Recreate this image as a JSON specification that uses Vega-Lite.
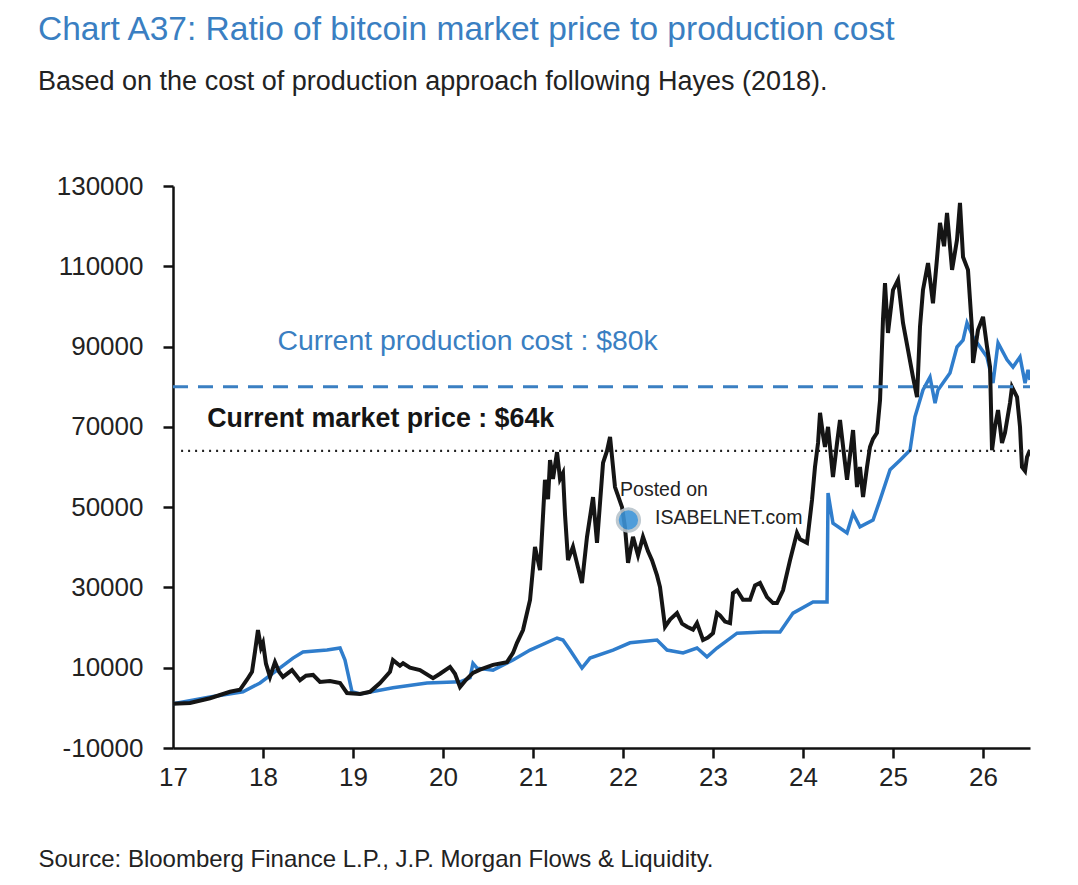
{
  "$schema": "https://vega.github.io/schema/vega-lite/v6.json",
  "autosize": "none",
  "width": 857,
  "height": 562,
  "padding": {"left": 173, "top": 186, "right": 48, "bottom": 137},
  "background": "white",
  "config": {
    "view": {"stroke": null},
    "font": "Liberation Sans, Arial, sans-serif",
    "axis": {
      "labelFont": "Liberation Sans, Arial, sans-serif",
      "labelFontSize": 26,
      "labelColor": "#222222",
      "domainColor": "#111111",
      "domainWidth": 2.5,
      "tickColor": "#111111",
      "tickWidth": 2.5,
      "tickSize": 10,
      "grid": false
    }
  },
  "title": {
    "text": "Chart A37: Ratio of bitcoin market price to production cost",
    "subtitle": "Based on the cost of production approach following Hayes (2018).",
    "anchor": "start",
    "frame": "group",
    "dx": -135,
    "offset": 77,
    "font": "Liberation Sans, Arial, sans-serif",
    "fontSize": 33.5,
    "fontWeight": "normal",
    "color": "#3a7fc2",
    "subtitleFont": "Liberation Sans, Arial, sans-serif",
    "subtitleFontSize": 27,
    "subtitleColor": "#222222",
    "subtitlePadding": 22
  },
  "datasets": {
    "cost": [
      {"t": 17.000, "v": 1000}, {"t": 17.411, "v": 2700}, {"t": 17.778, "v": 4000},
      {"t": 17.967, "v": 6200}, {"t": 18.156, "v": 9400}, {"t": 18.333, "v": 12400},
      {"t": 18.444, "v": 13900}, {"t": 18.711, "v": 14400}, {"t": 18.856, "v": 14900},
      {"t": 18.911, "v": 11900}, {"t": 18.989, "v": 4000}, {"t": 19.078, "v": 3450},
      {"t": 19.444, "v": 5000}, {"t": 19.822, "v": 6200}, {"t": 20.189, "v": 6500},
      {"t": 20.300, "v": 7500}, {"t": 20.333, "v": 11100}, {"t": 20.378, "v": 9900},
      {"t": 20.556, "v": 9400}, {"t": 20.778, "v": 11900}, {"t": 20.967, "v": 14400},
      {"t": 21.267, "v": 17400}, {"t": 21.333, "v": 16900}, {"t": 21.411, "v": 14400},
      {"t": 21.544, "v": 9900}, {"t": 21.633, "v": 12400}, {"t": 21.889, "v": 14400},
      {"t": 22.078, "v": 16200}, {"t": 22.378, "v": 16900}, {"t": 22.489, "v": 14400},
      {"t": 22.667, "v": 13700}, {"t": 22.822, "v": 14900}, {"t": 22.933, "v": 12700},
      {"t": 23.044, "v": 14900}, {"t": 23.267, "v": 18600}, {"t": 23.556, "v": 18900},
      {"t": 23.744, "v": 18900}, {"t": 23.889, "v": 23600}, {"t": 24.111, "v": 26400},
      {"t": 24.267, "v": 26400}, {"t": 24.278, "v": 53500}, {"t": 24.333, "v": 46000},
      {"t": 24.489, "v": 43600}, {"t": 24.556, "v": 48500}, {"t": 24.633, "v": 45100},
      {"t": 24.778, "v": 46800}, {"t": 24.856, "v": 51800}, {"t": 24.967, "v": 59300},
      {"t": 25.078, "v": 61700}, {"t": 25.189, "v": 64200}, {"t": 25.244, "v": 72500},
      {"t": 25.333, "v": 79200}, {"t": 25.411, "v": 82400}, {"t": 25.467, "v": 75900},
      {"t": 25.500, "v": 79200}, {"t": 25.633, "v": 83400}, {"t": 25.711, "v": 89900},
      {"t": 25.778, "v": 91600}, {"t": 25.822, "v": 95900}, {"t": 25.889, "v": 92400},
      {"t": 26.044, "v": 87400}, {"t": 26.111, "v": 80900}, {"t": 26.167, "v": 90900},
      {"t": 26.267, "v": 86700}, {"t": 26.333, "v": 84900}, {"t": 26.411, "v": 87400},
      {"t": 26.467, "v": 80900}, {"t": 26.500, "v": 84200}, {"t": 26.522, "v": 81700}
    ],
    "price": [
      {"t": 17.000, "v": 1000}, {"t": 17.189, "v": 1200}, {"t": 17.411, "v": 2400},
      {"t": 17.633, "v": 4000}, {"t": 17.744, "v": 4500}, {"t": 17.822, "v": 7000},
      {"t": 17.878, "v": 9000}, {"t": 17.911, "v": 14000}, {"t": 17.944, "v": 19400},
      {"t": 17.978, "v": 15000}, {"t": 18.000, "v": 16200}, {"t": 18.033, "v": 11000},
      {"t": 18.078, "v": 7700}, {"t": 18.133, "v": 11400}, {"t": 18.178, "v": 9000},
      {"t": 18.222, "v": 7700}, {"t": 18.322, "v": 9400}, {"t": 18.411, "v": 6900},
      {"t": 18.478, "v": 8000}, {"t": 18.556, "v": 8200}, {"t": 18.633, "v": 6450},
      {"t": 18.744, "v": 6700}, {"t": 18.856, "v": 6200}, {"t": 18.933, "v": 3700},
      {"t": 19.078, "v": 3450}, {"t": 19.189, "v": 4000}, {"t": 19.300, "v": 6200},
      {"t": 19.411, "v": 9000}, {"t": 19.444, "v": 11900}, {"t": 19.522, "v": 10500},
      {"t": 19.556, "v": 11100}, {"t": 19.633, "v": 10000}, {"t": 19.744, "v": 9400},
      {"t": 19.889, "v": 7400}, {"t": 19.967, "v": 8500}, {"t": 20.078, "v": 10200},
      {"t": 20.133, "v": 8500}, {"t": 20.189, "v": 5200}, {"t": 20.256, "v": 7000},
      {"t": 20.333, "v": 8700}, {"t": 20.411, "v": 9500}, {"t": 20.556, "v": 10700},
      {"t": 20.711, "v": 11400}, {"t": 20.778, "v": 13700}, {"t": 20.822, "v": 16200},
      {"t": 20.889, "v": 19400}, {"t": 20.967, "v": 26900}, {"t": 21.022, "v": 40100},
      {"t": 21.078, "v": 34300}, {"t": 21.133, "v": 56800}, {"t": 21.167, "v": 52000},
      {"t": 21.189, "v": 61700}, {"t": 21.222, "v": 57000}, {"t": 21.267, "v": 63700},
      {"t": 21.300, "v": 57000}, {"t": 21.333, "v": 58500}, {"t": 21.356, "v": 48000},
      {"t": 21.389, "v": 36800}, {"t": 21.444, "v": 40100}, {"t": 21.500, "v": 35000},
      {"t": 21.544, "v": 31100}, {"t": 21.600, "v": 42600}, {"t": 21.667, "v": 52500},
      {"t": 21.711, "v": 41100}, {"t": 21.778, "v": 61000}, {"t": 21.822, "v": 64000},
      {"t": 21.856, "v": 67500}, {"t": 21.911, "v": 55000}, {"t": 21.989, "v": 50000},
      {"t": 22.022, "v": 45000}, {"t": 22.056, "v": 36100}, {"t": 22.111, "v": 42600},
      {"t": 22.167, "v": 38000}, {"t": 22.222, "v": 42600}, {"t": 22.278, "v": 39000},
      {"t": 22.322, "v": 36800}, {"t": 22.378, "v": 33000}, {"t": 22.411, "v": 30100},
      {"t": 22.467, "v": 20200}, {"t": 22.522, "v": 22000}, {"t": 22.600, "v": 23600},
      {"t": 22.656, "v": 21000}, {"t": 22.711, "v": 20200}, {"t": 22.778, "v": 19500},
      {"t": 22.822, "v": 21100}, {"t": 22.889, "v": 16900}, {"t": 22.944, "v": 17500},
      {"t": 23.000, "v": 18600}, {"t": 23.044, "v": 23600}, {"t": 23.078, "v": 23000},
      {"t": 23.133, "v": 21500}, {"t": 23.189, "v": 21100}, {"t": 23.222, "v": 28600},
      {"t": 23.267, "v": 29300}, {"t": 23.333, "v": 26900}, {"t": 23.411, "v": 26900},
      {"t": 23.467, "v": 30500}, {"t": 23.522, "v": 31100}, {"t": 23.600, "v": 27600},
      {"t": 23.667, "v": 26100}, {"t": 23.711, "v": 26100}, {"t": 23.778, "v": 29300},
      {"t": 23.856, "v": 36800}, {"t": 23.933, "v": 43600}, {"t": 23.967, "v": 42000},
      {"t": 24.044, "v": 41100}, {"t": 24.100, "v": 51800}, {"t": 24.133, "v": 60000},
      {"t": 24.167, "v": 66000}, {"t": 24.189, "v": 73500}, {"t": 24.222, "v": 68000},
      {"t": 24.244, "v": 65000}, {"t": 24.278, "v": 70000}, {"t": 24.333, "v": 57500},
      {"t": 24.378, "v": 66000}, {"t": 24.411, "v": 71700}, {"t": 24.456, "v": 63000},
      {"t": 24.489, "v": 56800}, {"t": 24.556, "v": 69200}, {"t": 24.600, "v": 55000},
      {"t": 24.633, "v": 60000}, {"t": 24.667, "v": 52500}, {"t": 24.711, "v": 60000},
      {"t": 24.744, "v": 65000}, {"t": 24.778, "v": 67000}, {"t": 24.822, "v": 68500},
      {"t": 24.856, "v": 76700}, {"t": 24.889, "v": 97000}, {"t": 24.911, "v": 105800},
      {"t": 24.944, "v": 93400}, {"t": 25.000, "v": 104100}, {"t": 25.056, "v": 106600},
      {"t": 25.111, "v": 95900}, {"t": 25.167, "v": 89100}, {"t": 25.222, "v": 82400},
      {"t": 25.267, "v": 77400}, {"t": 25.300, "v": 95000}, {"t": 25.333, "v": 104100},
      {"t": 25.389, "v": 110800}, {"t": 25.444, "v": 100800}, {"t": 25.489, "v": 112000},
      {"t": 25.522, "v": 120800}, {"t": 25.567, "v": 115000}, {"t": 25.600, "v": 123300},
      {"t": 25.656, "v": 109100}, {"t": 25.711, "v": 116600}, {"t": 25.744, "v": 125800},
      {"t": 25.778, "v": 112300}, {"t": 25.833, "v": 109100}, {"t": 25.878, "v": 94100},
      {"t": 25.889, "v": 85900}, {"t": 25.944, "v": 94100}, {"t": 26.000, "v": 97400},
      {"t": 26.044, "v": 90000}, {"t": 26.078, "v": 84900}, {"t": 26.100, "v": 64200},
      {"t": 26.133, "v": 70000}, {"t": 26.167, "v": 74200}, {"t": 26.211, "v": 66000},
      {"t": 26.244, "v": 68500}, {"t": 26.300, "v": 76000}, {"t": 26.322, "v": 79900},
      {"t": 26.378, "v": 77400}, {"t": 26.411, "v": 70000}, {"t": 26.433, "v": 60000},
      {"t": 26.467, "v": 59000}, {"t": 26.489, "v": 62500}, {"t": 26.522, "v": 64200}
    ],
    "levels": [
      {"kind": "cost", "t0": 17.0, "t1": 26.522, "v": 80000},
      {"kind": "price", "t0": 17.09, "t1": 26.522, "v": 64000}
    ],
    "notes": [
      {"kind": "cost", "t": 18.16, "v": 91400, "label": "Current production cost : $80k"},
      {"kind": "price", "t": 17.38, "v": 72000, "label": "Current market price : $64k"}
    ],
    "mark": [
      {"t": 22.06, "v": 46800, "label": "", "line": 0},
      {"t": 21.967, "v": 54300, "label": "Posted on", "line": 1},
      {"t": 22.356, "v": 47300, "label": "ISABELNET.com", "line": 2}
    ]
  },
  "layer": [
    {
      "data": {"name": "cost"},
      "mark": {"type": "line", "color": "#2f7dcc", "strokeWidth": 3.5, "clip": true},
      "encoding": {
        "x": {
          "field": "t",
          "type": "quantitative",
          "scale": {"domain": [17, 26.522], "nice": false, "zero": false},
          "axis": {
            "values": [17, 18, 19, 20, 21, 22, 23, 24, 25, 26],
            "format": "d",
            "labelFlush": false,
            "labelPadding": 6,
            "tickOpacity": {"condition": {"test": "datum.value == 17", "value": 0}, "value": 1},
            "title": "Source: Bloomberg Finance L.P., J.P. Morgan Flows & Liquidity.",
            "titleFont": "Liberation Sans, Arial, sans-serif",
            "titleFontSize": 24,
            "titleFontWeight": "normal",
            "titleColor": "#222222",
            "titleAnchor": "start",
            "titleAlign": "left",
            "titleBaseline": "alphabetic",
            "titleX": -135,
            "titleY": 118
          }
        },
        "y": {
          "field": "v",
          "type": "quantitative",
          "scale": {"domain": [-10000, 130000], "nice": false, "zero": false},
          "axis": {
            "values": [-10000, 10000, 30000, 50000, 70000, 90000, 110000, 130000],
            "format": "d",
            "labelExpr": "replace(datum.label, '\u2212', '-')",
            "labelPadding": 20,
            "title": null
          }
        }
      }
    },
    {
      "data": {"name": "price"},
      "mark": {"type": "line", "color": "#151515", "strokeWidth": 4, "clip": true},
      "encoding": {
        "x": {"field": "t", "type": "quantitative"},
        "y": {"field": "v", "type": "quantitative"}
      }
    },
    {
      "data": {"name": "levels"},
      "transform": [{"filter": "datum.kind == 'cost'"}],
      "mark": {"type": "rule", "color": "#3a7fc2", "strokeWidth": 3, "strokeDash": [15, 10]},
      "encoding": {
        "x": {"field": "t0", "type": "quantitative"},
        "x2": {"field": "t1"},
        "y": {"field": "v", "type": "quantitative"}
      }
    },
    {
      "data": {"name": "levels"},
      "transform": [{"filter": "datum.kind == 'price'"}],
      "mark": {"type": "rule", "color": "#222222", "strokeWidth": 2.2, "strokeDash": [2, 5]},
      "encoding": {
        "x": {"field": "t0", "type": "quantitative"},
        "x2": {"field": "t1"},
        "y": {"field": "v", "type": "quantitative"}
      }
    },
    {
      "data": {"name": "notes"},
      "transform": [{"filter": "datum.kind == 'cost'"}],
      "mark": {"type": "text", "align": "left", "baseline": "middle", "fontSize": 28.4, "color": "#3a7fc2"},
      "encoding": {
        "x": {"field": "t", "type": "quantitative"},
        "y": {"field": "v", "type": "quantitative"},
        "text": {"field": "label"}
      }
    },
    {
      "data": {"name": "notes"},
      "transform": [{"filter": "datum.kind == 'price'"}],
      "mark": {"type": "text", "align": "left", "baseline": "middle", "fontSize": 26.8, "fontWeight": "bold", "color": "#151515"},
      "encoding": {
        "x": {"field": "t", "type": "quantitative"},
        "y": {"field": "v", "type": "quantitative"},
        "text": {"field": "label"}
      }
    },
    {
      "data": {"name": "mark"},
      "transform": [{"filter": "datum.line == 0"}],
      "mark": {"type": "point", "shape": "circle", "size": 500, "filled": true, "color": "#3d93d6", "stroke": "#b8c4cc", "strokeWidth": 3, "opacity": 0.9},
      "encoding": {
        "x": {"field": "t", "type": "quantitative"},
        "y": {"field": "v", "type": "quantitative"}
      }
    },
    {
      "data": {"name": "mark"},
      "transform": [{"filter": "datum.line > 0"}],
      "mark": {"type": "text", "align": "left", "baseline": "middle", "fontSize": 19.5, "color": "#222222"},
      "encoding": {
        "x": {"field": "t", "type": "quantitative"},
        "y": {"field": "v", "type": "quantitative"},
        "text": {"field": "label"}
      }
    }
  ]
}
